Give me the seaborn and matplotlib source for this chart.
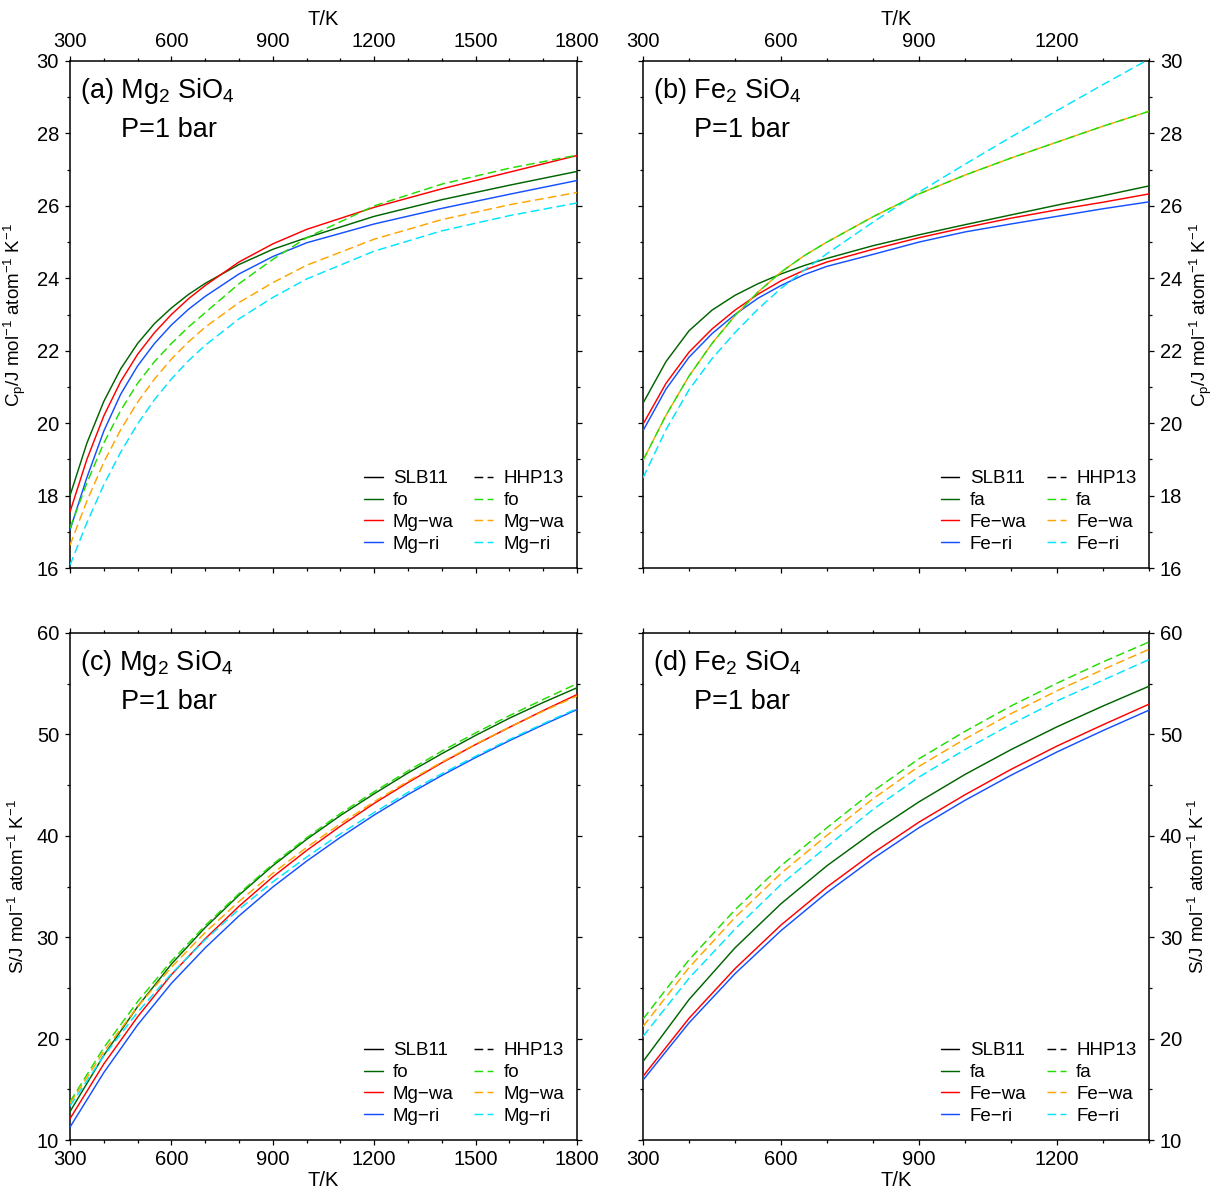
import matplotlib
matplotlib.use("Agg")
import matplotlib.pyplot as plt
from matplotlib.lines import Line2D
from matplotlib.ticker import MultipleLocator
import seaborn as sns

# ---------------- data ----------------
# (a) Cp of Mg2SiO4 polymorphs
T_cp_mg = [300, 350, 400, 450, 500, 550, 600, 650, 700, 800, 900, 1000, 1200, 1400, 1600, 1800]
cp_fo_slb   = [18.00, 19.45, 20.60, 21.50, 22.20, 22.75, 23.18, 23.55, 23.86, 24.38, 24.80, 25.12, 25.71, 26.17, 26.57, 26.95]
cp_mgwa_slb = [17.55, 19.00, 20.20, 21.15, 21.90, 22.50, 23.00, 23.43, 23.80, 24.45, 24.95, 25.35, 25.96, 26.47, 26.93, 27.39]
cp_mgri_slb = [17.05, 18.50, 19.78, 20.80, 21.58, 22.20, 22.71, 23.14, 23.50, 24.12, 24.60, 24.98, 25.50, 25.93, 26.32, 26.70]
cp_fo_hhp   = [17.10, 18.35, 19.45, 20.35, 21.10, 21.70, 22.20, 22.65, 23.05, 23.85, 24.52, 25.12, 26.00, 26.60, 27.04, 27.40]
cp_mgwa_hhp = [16.63, 17.85, 18.92, 19.82, 20.58, 21.22, 21.77, 22.24, 22.65, 23.33, 23.88, 24.36, 25.08, 25.62, 26.03, 26.37]
cp_mgri_hhp = [16.08, 17.25, 18.30, 19.20, 19.98, 20.65, 21.22, 21.72, 22.15, 22.88, 23.47, 23.98, 24.75, 25.31, 25.73, 26.08]

# (b) Cp of Fe2SiO4 polymorphs
T_cp_fe = [300, 350, 400, 450, 500, 550, 600, 650, 700, 800, 900, 1000, 1100, 1200, 1300, 1400]
cp_fa_slb   = [20.55, 21.70, 22.55, 23.12, 23.53, 23.85, 24.12, 24.35, 24.55, 24.90, 25.20, 25.48, 25.75, 26.02, 26.28, 26.55]
cp_fewa_slb = [19.97, 21.10, 21.96, 22.60, 23.12, 23.56, 23.93, 24.22, 24.45, 24.80, 25.12, 25.40, 25.66, 25.89, 26.10, 26.33]
cp_feri_slb = [19.79, 20.94, 21.82, 22.47, 23.00, 23.45, 23.80, 24.10, 24.33, 24.66, 25.00, 25.28, 25.50, 25.71, 25.92, 26.11]
cp_fa_hhp   = [18.97, 20.22, 21.30, 22.20, 22.97, 23.62, 24.17, 24.62, 25.00, 25.70, 26.33, 26.85, 27.32, 27.76, 28.20, 28.61]
cp_fewa_hhp = [18.97, 20.22, 21.30, 22.20, 22.97, 23.62, 24.17, 24.62, 25.00, 25.70, 26.33, 26.85, 27.32, 27.76, 28.20, 28.61]
cp_feri_hhp = [18.49, 19.82, 20.92, 21.78, 22.50, 23.15, 23.72, 24.22, 24.68, 25.55, 26.38, 27.15, 27.90, 28.63, 29.35, 30.05]

# (c) S of Mg2SiO4 polymorphs
T_s_mg = [300, 400, 500, 600, 700, 800, 900, 1000, 1100, 1200, 1300, 1400, 1500, 1600, 1700, 1800]
s_fo_slb   = [12.80, 18.35, 23.15, 27.35, 30.95, 34.15, 37.05, 39.65, 42.00, 44.15, 46.20, 48.10, 49.90, 51.60, 53.15, 54.60]
s_mgwa_slb = [12.10, 17.50, 22.15, 26.30, 29.85, 33.05, 35.95, 38.55, 40.95, 43.20, 45.25, 47.20, 49.00, 50.70, 52.35, 53.93]
s_mgri_slb = [11.27, 16.65, 21.35, 25.45, 28.95, 32.10, 34.95, 37.50, 39.85, 42.05, 44.07, 45.95, 47.72, 49.38, 50.95, 52.45]
s_fo_hhp   = [13.77, 19.10, 23.65, 27.65, 31.15, 34.30, 37.20, 39.80, 42.20, 44.35, 46.40, 48.35, 50.15, 51.85, 53.45, 55.00]
s_mgwa_hhp = [13.60, 18.72, 23.15, 27.04, 30.47, 33.53, 36.31, 38.85, 41.19, 43.36, 45.38, 47.27, 49.04, 50.71, 52.29, 53.79]
s_mgri_hhp = [13.35, 18.30, 22.60, 26.40, 29.75, 32.75, 35.45, 37.90, 40.20, 42.30, 44.28, 46.12, 47.85, 49.50, 51.05, 52.55]

# (d) S of Fe2SiO4 polymorphs
T_s_fe = [300, 400, 500, 600, 700, 800, 900, 1000, 1100, 1200, 1300, 1400]
s_fa_slb   = [17.74, 23.85, 28.95, 33.30, 37.05, 40.35, 43.35, 46.05, 48.50, 50.75, 52.80, 54.75]
s_fewa_slb = [16.28, 22.00, 26.90, 31.20, 34.95, 38.30, 41.35, 44.05, 46.55, 48.85, 50.95, 52.98]
s_feri_slb = [15.91, 21.55, 26.40, 30.65, 34.40, 37.75, 40.80, 43.50, 45.97, 48.27, 50.38, 52.39]
s_fa_hhp   = [21.93, 27.77, 32.70, 37.05, 40.80, 44.40, 47.60, 50.30, 52.80, 55.05, 57.15, 59.11]
s_fewa_hhp = [21.20, 27.00, 31.95, 36.30, 40.05, 43.65, 46.85, 49.55, 52.05, 54.30, 56.40, 58.39]
s_feri_hhp = [20.22, 25.95, 30.80, 35.20, 38.95, 42.60, 45.80, 48.50, 51.00, 53.30, 55.35, 57.38]

labels_mg = ["fo", "Mg\u2212wa", "Mg\u2212ri"]
labels_fe = ["fa", "Fe\u2212wa", "Fe\u2212ri"]
model_names = ["SLB11", "HHP13"]
x_ticks_mg = [300, 600, 900, 1200, 1500, 1800]
x_ticks_fe = [300, 600, 900, 1200]

# ---------------- style ----------------
sns.set_style("ticks")
plt.rcParams["font.family"] = ["Liberation Sans", "DejaVu Sans"]
plt.rcParams["mathtext.fontset"] = "custom"
plt.rcParams["mathtext.rm"] = "Liberation Sans"
plt.rcParams["mathtext.it"] = "Liberation Sans:italic"
plt.rcParams["mathtext.bf"] = "Liberation Sans:bold"
plt.rcParams["axes.unicode_minus"] = True
for key in ["text.color", "axes.labelcolor", "xtick.color", "ytick.color", "axes.edgecolor"]:
    plt.rcParams[key] = "black"

SLB_COLORS = ["#006400", "#ff0000", "#1450ff"]
HHP_COLORS = ["#22dd00", "#ffa500", "#00e5ff"]
LW = 1.05
DASH = (6.0, 3.0)
TICK_FS = 14.5
TITLE_FS = 19.5

fig = plt.figure(figsize=(12.14, 11.92), dpi=100)
W, H = 1214.0, 1192.0


def axes_px(left, top, right, bottom):
    return fig.add_axes([left / W, 1 - bottom / H, (right - left) / W, (bottom - top) / H])


ax_a = axes_px(70, 61, 577, 568)
ax_b = axes_px(643, 61, 1149, 568)
ax_c = axes_px(70, 633, 577, 1140)
ax_d = axes_px(643, 633, 1149, 1140)

cp_label = r"C$_\mathrm{p}$/J mol$^{-1}$ atom$^{-1}$ K$^{-1}$"
s_label = r"S/J mol$^{-1}$ atom$^{-1}$ K$^{-1}$"


def draw(ax, T, slb, hhp, overlap_offset=False):
    for vals, c in zip(slb, SLB_COLORS):
        sns.lineplot(x=T, y=vals, ax=ax, color=c, linewidth=LW, errorbar=None,
                     estimator=None, sort=False, legend=False, zorder=3)
    for i, (vals, c) in enumerate(zip(hhp, HHP_COLORS)):
        ls = (0, DASH)
        z = 4
        if overlap_offset and i == 1:
            ls = (DASH[0], DASH)
            z = 3.5
        sns.lineplot(x=T, y=vals, ax=ax, color=c, linewidth=LW, linestyle=ls,
                     errorbar=None, estimator=None, sort=False, legend=False, zorder=z)


def style_axes(ax, xlim, xticks, ylim, ymaj, ymin, top_labels, right_labels, ylabel):
    ax.set_xlim(*xlim)
    ax.set_ylim(*ylim)
    ax.set_xticks(xticks)
    ax.xaxis.set_minor_locator(MultipleLocator(100))
    ax.yaxis.set_major_locator(MultipleLocator(ymaj))
    ax.yaxis.set_minor_locator(MultipleLocator(ymin))
    for sp in ax.spines.values():
        sp.set_visible(True)
        sp.set_linewidth(1.1)
        sp.set_color("black")
    ax.tick_params(which="both", direction="out", top=True, bottom=True, left=True, right=True,
                   colors="black", width=0.9)
    ax.tick_params(which="major", length=3.4)
    ax.tick_params(which="minor", length=1.9)
    ax.tick_params(axis="x", which="major", pad=3.5, labelsize=TICK_FS,
                   labeltop=top_labels, labelbottom=not top_labels)
    ax.tick_params(axis="y", which="major", pad=4.5, labelsize=TICK_FS,
                   labelleft=not right_labels, labelright=right_labels)
    if top_labels:
        ax.set_xlabel("T/K", fontsize=TICK_FS, labelpad=5)
        ax.xaxis.set_label_position("top")
    else:
        ax.set_xlabel("T/K", fontsize=TICK_FS, labelpad=2)
    if right_labels:
        ax.yaxis.set_label_position("right")
        ax.set_ylabel(ylabel, fontsize=13.5, labelpad=4)
    else:
        ax.set_ylabel(ylabel, fontsize=13.5, labelpad=6)
    ax.set_facecolor("white")
    ax.grid(False)


def titles(ax, letter, formula):
    ax.text(0.02, 0.928, f"({letter}) {formula}", transform=ax.transAxes, fontsize=TITLE_FS,
            ha="left", va="baseline", color="black")
    ax.text(0.10, 0.851, "P=1 bar", transform=ax.transAxes, fontsize=TITLE_FS,
            ha="left", va="baseline", color="black")


def legend(ax, names):
    handles = [Line2D([], [], color="black", lw=LW)]
    handles += [Line2D([], [], color=c, lw=LW) for c in SLB_COLORS]
    handles += [Line2D([], [], color="black", lw=LW, linestyle=(0, DASH))]
    handles += [Line2D([], [], color=c, lw=LW, linestyle=(0, DASH)) for c in HHP_COLORS]
    labels = [model_names[0]] + names + [model_names[1]] + names
    ax.legend(handles, labels, ncol=2, loc="lower right", bbox_to_anchor=(0.975, 0.03),
              frameon=False, fontsize=13.5, handlelength=1.0, handletextpad=0.55,
              columnspacing=1.1, labelspacing=0.25, borderpad=0, borderaxespad=0)


mg = r"Mg$_2$ SiO$_4$"
fe = r"Fe$_2$ SiO$_4$"

draw(ax_a, T_cp_mg, [cp_fo_slb, cp_mgwa_slb, cp_mgri_slb], [cp_fo_hhp, cp_mgwa_hhp, cp_mgri_hhp])
style_axes(ax_a, (300, 1800), x_ticks_mg, (16, 30), 2, 1, True, False, cp_label)
titles(ax_a, "a", mg)
legend(ax_a, labels_mg)

draw(ax_b, T_cp_fe, [cp_fa_slb, cp_fewa_slb, cp_feri_slb], [cp_fa_hhp, cp_fewa_hhp, cp_feri_hhp],
     overlap_offset=True)
style_axes(ax_b, (300, 1400), x_ticks_fe, (16, 30), 2, 1, True, True, cp_label)
titles(ax_b, "b", fe)
legend(ax_b, labels_fe)

draw(ax_c, T_s_mg, [s_fo_slb, s_mgwa_slb, s_mgri_slb], [s_fo_hhp, s_mgwa_hhp, s_mgri_hhp])
style_axes(ax_c, (300, 1800), x_ticks_mg, (10, 60), 10, 5, False, False, s_label)
titles(ax_c, "c", mg)
legend(ax_c, labels_mg)

draw(ax_d, T_s_fe, [s_fa_slb, s_fewa_slb, s_feri_slb], [s_fa_hhp, s_fewa_hhp, s_feri_hhp])
style_axes(ax_d, (300, 1400), x_ticks_fe, (10, 60), 10, 5, False, True, s_label)
titles(ax_d, "d", fe)
legend(ax_d, labels_fe)

fig.savefig("out.png", dpi=100, facecolor="white")
